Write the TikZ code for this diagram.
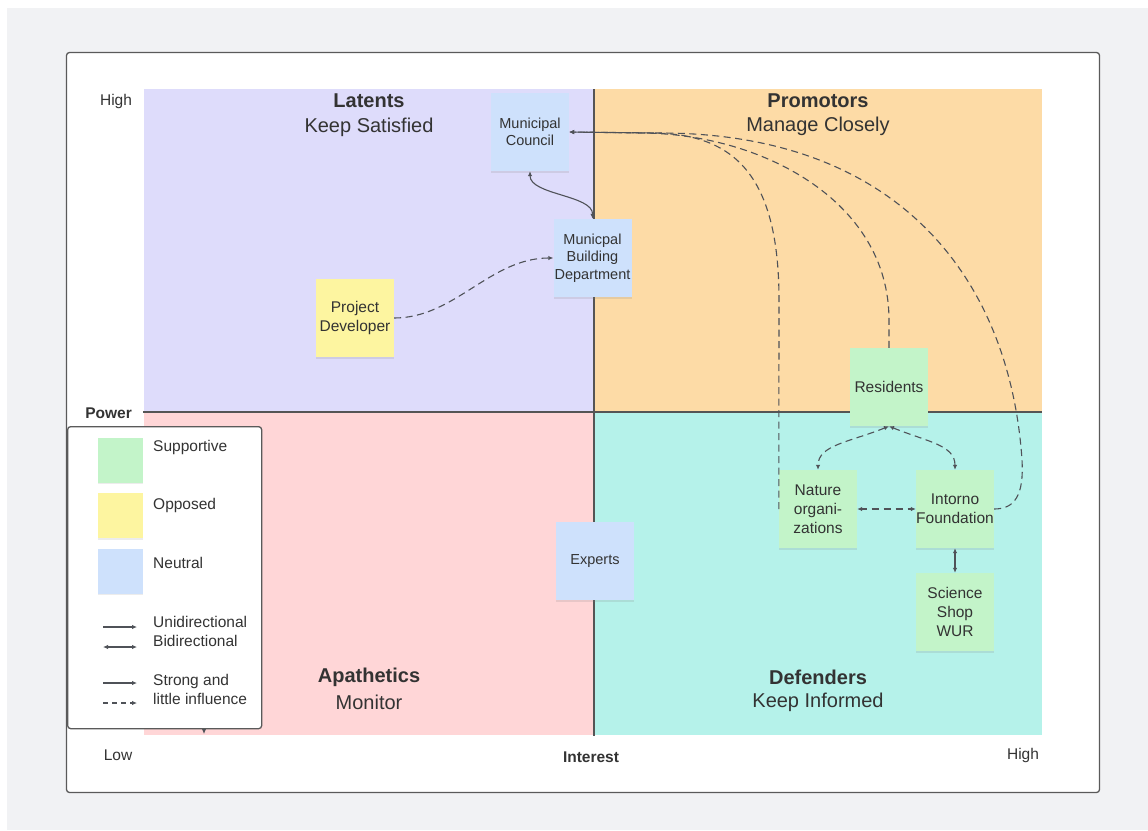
\documentclass[tikz,border=0pt]{standalone}
\usepackage{fontspec}
\setmainfont{Liberation Sans}
\usetikzlibrary{arrows.meta,shadows}
\definecolor{bggray}{HTML}{F1F2F4}
\definecolor{framec}{HTML}{5A5A5A}
\definecolor{divc}{HTML}{555555}
\definecolor{linec}{HTML}{4F5258}
\definecolor{textc}{HTML}{333333}
\definecolor{latc}{HTML}{DEDCFB}
\definecolor{proc}{HTML}{FDDBA6}
\definecolor{apac}{HTML}{FFD6D7}
\definecolor{defc}{HTML}{B5F2EA}
\definecolor{blueN}{HTML}{CEE1FC}
\definecolor{greenS}{HTML}{C3F4C9}
\definecolor{yellowO}{HTML}{FDF5A0}
\tikzset{
  >={Latex[length=5pt,width=4.5pt]},
  sticky/.style={minimum width=78pt, minimum height=78pt, inner sep=0pt, align=center,
    text=textc, font=\fontsize{15.5}{19}\selectfont,
    drop shadow={shadow xshift=0pt, shadow yshift=-1.5pt, opacity=0.18}},
  bluesticky/.style={sticky, fill=blueN, font=\fontsize{14.5}{17.5}\selectfont},
  greensticky/.style={sticky, fill=greenS},
  yellowsticky/.style={sticky, fill=yellowO},
  qtitle/.style={font=\bfseries\fontsize{20}{24}\selectfont, text=textc},
  qsub/.style={font=\fontsize{20}{24}\selectfont, text=textc},
  axislbl/.style={font=\fontsize{15.5}{18}\selectfont, text=textc},
  axisbold/.style={font=\bfseries\fontsize{15.5}{18}\selectfont, text=textc},
  legtext/.style={font=\fontsize{15.5}{19}\selectfont, text=textc, anchor=west, align=left, inner sep=0pt},
  legsq/.style={minimum width=45pt, minimum height=45pt, inner sep=0pt,
    drop shadow={shadow xshift=0pt, shadow yshift=-1.5pt, opacity=0.15}},
  conn/.style={draw=linec, line width=1.1pt},
  dconn/.style={conn, dash pattern=on 7pt off 4.5pt},
  boxframe/.style={draw=framec, line width=1.3pt, fill=white, rounded corners=3pt},
}
\begin{document}
\begin{tikzpicture}[x=1pt,y=-1pt]
\useasboundingbox (0,0) rectangle (1148,830);
\fill[white] (0,0) rectangle (1148,830);
\fill[bggray] (7,8) rectangle (1148,830);
% main frame
\draw[boxframe] (66.5,52.5) rectangle (1099.5,792.5);
% quadrants
\fill[latc] (144,89) rectangle (594,412);
\fill[proc] (594,89) rectangle (1042,412);
\fill[apac] (144,412) rectangle (594,735);
\fill[defc] (594,412) rectangle (1042,735);
\draw[divc, line width=1.3pt] (594,89) -- (594,736);
\draw[divc, line width=1.3pt] (143,412) -- (1042,412);
% quadrant titles
\node[qtitle] (latT) at (369,101) {Latents};
\node[qsub] (latS) at (369,127) {Keep Satisfied};
\node[qtitle] (proT) at (818,101) {Promotors};
\node[qsub] (proS) at (818,126) {Manage Closely};
\node[qtitle] (apaT) at (369,677) {Apathetics};
\node[qsub] (apaS) at (369,702) {Monitor};
\node[qtitle] (defT) at (818,677) {Defenders};
\node[qsub] (defS) at (818,702) {Keep Informed};
% axis labels
\node[axislbl] (hiP) at (116,101) {High};
\node[axisbold, anchor=east, inner sep=0pt] (pow) at (132,413) {Power};
\node[axislbl] (lowL) at (118,755) {Low};
\node[axisbold] (intr) at (591,757) {Interest};
\node[axislbl] (hiI) at (1023,755) {High};
% sticky notes
\node[bluesticky] (mc) at (530,132) {Municipal\\Council};
\node[bluesticky] (mbd) at (592.5,258) {Municpal\\Building\\Department};
\node[yellowsticky] (pd) at (355,318) {Project\\Developer};
\node[greensticky] (res) at (889,387) {Residents};
\node[greensticky] (nat) at (818,509) {Nature\\organi-\\zations};
\node[greensticky] (int) at (955,509) {Intorno\\Foundation};
\node[greensticky] (sci) at (955,612) {Science\\Shop\\WUR};
\node[bluesticky] (exp) at (595,561) {Experts};
% connectors
\draw[conn,<->] (mc.south) .. controls (530,195) and (593,195) .. (mbd.north);
\draw[dconn,->] (pd.east) .. controls (455,318) and (490,258) .. (mbd.west);
\draw[dconn,->] (nat.west) -- (779,300) .. controls (779,170) and (730,133) .. (650,133) -- (mc.east);
\draw[dconn,->] (res.north) -- (889,320) .. controls (889,200) and (760,133) .. (640,133) -- (mc.east);
\draw[dconn,->] (int.east) .. controls (1015,509) and (1024,495) .. (1022,460)
   .. controls (1010,280) and (900,133) .. (660,133) -- (mc.east);
\draw[dconn,<->] (res.south) .. controls (850,442) and (818,445) .. (nat.north);
\draw[dconn,<->] (res.south) .. controls (928,442) and (955,445) .. (int.north);
\draw[dconn,dash pattern=on 7pt off 5pt,dash phase=2pt,<->] (nat.east) -- (int.west);
\draw[conn,<->] (int.south) -- (sci.north);
% stray arrow under the legend
\coordinate (sa1) at (204,700);
\coordinate (sa2) at (204,734);
\draw[conn,->] (sa1) -- (sa2);
% legend
\node[boxframe, minimum width=194pt, minimum height=302pt, anchor=north west, inner sep=0pt] (legend) at (67,426) {};
\node[legsq, fill=greenS] (lgS) at (120.5,460) {};
\node[legsq, fill=yellowO] (lgO) at (120.5,515.5) {};
\node[legsq, fill=blueN] (lgN) at (120.5,571) {};
\node[legtext] (ltS) at (153,447) {Supportive};
\node[legtext] (ltO) at (153,505) {Opposed};
\node[legtext] (ltN) at (153,563) {Neutral};
\node[legtext] (ltU) at (153,631) {Unidirectional\\Bidirectional};
\node[legtext] (ltI) at (153,689) {Strong and\\little influence};
\coordinate (u1) at (103,627); \coordinate (u2) at (137,627);
\coordinate (b1) at (103,647); \coordinate (b2) at (137,647);
\coordinate (s1) at (103,683); \coordinate (s2) at (137,683);
\coordinate (d1) at (103,703); \coordinate (d2) at (137,703);
\draw[conn,->] (u1) -- (u2);
\draw[conn,<->] (b1) -- (b2);
\draw[conn,->] (s1) -- (s2);
\draw[dconn,dash pattern=on 5pt off 4pt,->] (d1) -- (d2);
\end{tikzpicture}
\end{document}
